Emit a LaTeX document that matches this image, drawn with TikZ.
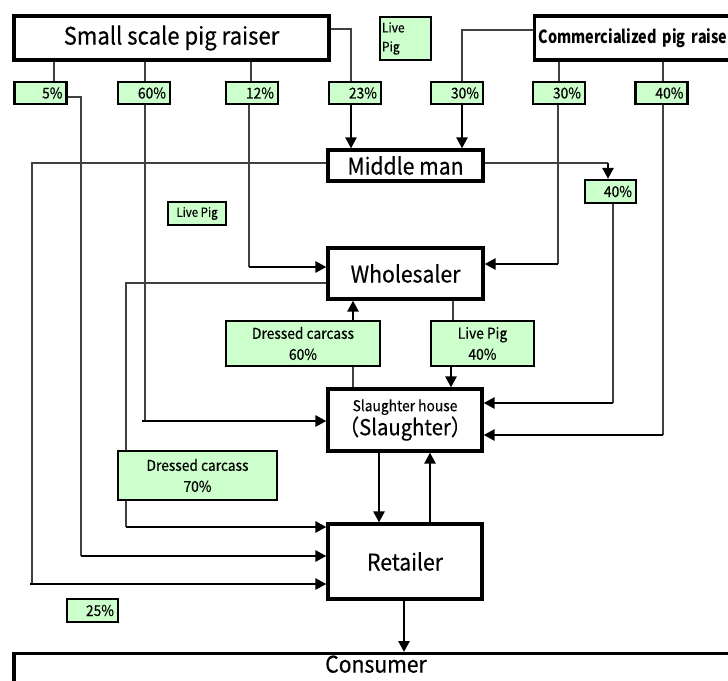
\documentclass[tikz,border=0pt]{standalone}
\usepackage{fontspec}
\setmainfont{Noto Sans CJK JP}[FakeStretch=0.92, FakeBold=0.4]
\newfontfamily\narrowfont{Noto Sans CJK JP}[FakeStretch=0.8]
\usetikzlibrary{arrows.meta}
\definecolor{boxgreen}{HTML}{CCFFCC}
\definecolor{wiregray}{HTML}{404040}
\newcommand{\fsz}[2]{\fontsize{#1}{#2}\selectfont}
\pgfdeclarelayer{paper}
\pgfdeclarelayer{wires}
\pgfsetlayers{paper,wires,main}

\begin{document}
\begin{tikzpicture}[x=1pt,y=-1pt,
  stage/.style={draw, line width=3.2pt, fill=white, inner sep=0pt, font=\fsz{23}{26}},
  tag/.style={draw, line width=2.2pt, fill=boxgreen, inner sep=0pt, align=center, font=\fsz{15}{21}},
  pct/.style={draw, line width=2.2pt, fill=boxgreen, inner xsep=4pt, inner ysep=0pt,
    text width=44pt, align=right, minimum height=22pt, font=\fsz{15}{18}},
  wire/.style={draw=wiregray, line width=1.3pt},
  flow/.style={draw=black, line width=2.6pt, -{Triangle[length=11pt,width=11pt]}},
]
\useasboundingbox (0,0) rectangle (728,680);
\clip (0,0) rectangle (728,680);
\begin{pgfonlayer}{paper}
\fill[white] (0,0) rectangle (728,680);
\end{pgfonlayer}

% producers
\node[stage, minimum width=315pt, minimum height=44pt, font=\fsz{24}{28}] (small) at (171.5,38) {Small scale pig raiser};
\node[stage, minimum width=212pt, minimum height=44pt, text width=240pt, align=left,
  inner xsep=4pt, anchor=west, font=\narrowfont\bfseries\fsz{18}{22}] (comm) at (533,38) {Commercialized pig raiser};
\node[tag, minimum width=51pt, minimum height=43pt, text width=47pt, align=left,
  font=\fsz{13}{19}] (lptop) at (405.5,38.5) {Live\\Pig};

% shares of each producer
\node[pct] (p5)   at (40.5,93) {5\%};
\node[pct] (p60)  at (144,93)  {60\%};
\node[pct] (p12)  at (252,93)  {12\%};
\node[pct] (p23)  at (355,93)  {23\%};
\node[pct] (p30a) at (457,93)  {30\%};
\node[pct] (p30b) at (559,93)  {30\%};
\node[pct] (p40a) at (661.5,93) {40\%};

% traders and processors
\node[stage, minimum width=155pt, minimum height=31pt] (middle) at (405.5,165.5) {Middle man};
\node[pct, text width=43pt, minimum height=23pt] (p40b) at (610.5,191.5) {40\%};
\node[tag, minimum width=58pt, minimum height=23pt, font=\fsz{12.5}{14}] (lpmid) at (197,213.5) {Live Pig};
\node[stage, minimum width=155pt, minimum height=51pt] (wholesaler) at (405.5,273.5) {Wholesaler};
\node[tag, minimum width=154pt, minimum height=45pt] (dc60) at (303,343.5) {Dressed carcass\\60\%};
\node[tag, minimum width=103pt, minimum height=45pt] (lp40) at (482.5,343.5) {Live Pig\\40\%};
\node[stage, minimum width=154pt, minimum height=62pt, align=center] (slaughter) at (405,420)
  {{\fsz{15}{20}Slaughter house}\\[-2pt]{\fsz{22}{24}（Slaughter）}};
\node[tag, minimum width=159pt, minimum height=49pt] (dc70) at (197.5,475.5) {Dressed carcass\\70\%};
\node[stage, minimum width=154pt, minimum height=75pt] (retailer) at (405,561.5) {Retailer};
\node[pct, text width=43pt, minimum height=23pt] (p25) at (92.5,610.5) {25\%};
\node[stage, minimum width=724pt, anchor=north, inner ysep=2pt, text height=17pt, text depth=40pt]
  (consumer) at (376,652) {Consumer};

\begin{pgfonlayer}{wires}
% producers to their shares
\draw[wire] (54,0 |- small.south) -- (54,0 |- p5.north);
\draw[wire] (145,0 |- small.south) -- (145,0 |- p60.north);
\draw[wire] (251,0 |- small.south) -- (251,0 |- p12.north);
\draw[wire] (small.east |- 0,29) -| (351,0 |- p23.north);
\draw[flow] (351,0 |- p23.south) -- (351,0 |- middle.north);
\draw[wire] (comm.west |- 0,30) -| (462,0 |- p30a.north);
\draw[flow] (462,0 |- p30a.south) -- (462,0 |- middle.north);
\draw[wire] (559,0 |- comm.south) -- (559,0 |- p30b.north);
\draw[wire] (663,0 |- comm.south) -- (663,0 |- p40a.north);

% 5% straight to the retailer
\coordinate (k5) at (81,556);
\draw[wire] (p5.east |- 0,97) -| (k5);
\draw[flow] (k5) -- (retailer.west |- k5);

% 60% to the slaughter house
\coordinate (k60) at (145,421);
\coordinate (k60s) at (142,421);
\draw[wire] (p60.south -| k60) -- (k60);
\draw[flow] (k60s) -- (slaughter.west |- k60s);

% 12% to the wholesaler
\coordinate (k12) at (249,267);
\draw[wire] (p12.south -| k12) -- (k12);
\draw[flow] (k12) -- (wholesaler.west |- k12);

% middle man to the retailer
\coordinate (km1) at (32,163);
\coordinate (km2) at (32,584);
\coordinate (km3) at (30,584);
\draw[wire] (middle.west |- km1) -- (km1) -- (km2);
\draw[flow] (km3) -- (retailer.west |- km3);

% middle man to the slaughter house (40%)
\coordinate (km4) at (608,163);
\draw[wire] (middle.east |- km4) -- (km4);
\draw[flow] (km4) -- (p40b.north -| km4);
\coordinate (k40b) at (613,403);
\draw[wire] (p40b.south -| k40b) -- (k40b);
\draw[flow] (k40b) -- (slaughter.east |- k40b);

% commercial raiser to wholesaler and slaughter house
\coordinate (k30) at (558,264);
\draw[wire] (p30b.south -| k30) -- (k30);
\draw[flow] (k30) -- (wholesaler.east |- k30);
\coordinate (k40a) at (663,435);
\draw[wire] (p40a.south -| k40a) -- (k40a);
\draw[flow] (k40a) -- (slaughter.east |- k40a);

% wholesaler to retailer, dressed carcass
\coordinate (kw1) at (126,283);
\coordinate (kw2) at (126,527);
\draw[wire] (wholesaler.west |- kw1) -- (kw1) -- (kw2);
\draw[flow] (kw2) -- (retailer.west |- kw2);

% wholesaler and slaughter house
\draw[wire] (slaughter.north -| 353,0) -- (dc60.south -| 353,0);
\draw[flow] (dc60.north -| 353,0) -- (wholesaler.south -| 353,0);
\draw[wire] (wholesaler.south -| 453,0) -- (lp40.north -| 453,0);
\draw[flow] (lp40.south -| 451,0) -- (slaughter.north -| 451,0);

% slaughter house, retailer, consumer
\draw[flow] (slaughter.south -| 379,0) -- (retailer.north -| 379,0);
\draw[flow] (retailer.north -| 430,0) -- (slaughter.south -| 430,0);
\draw[flow] (retailer.south -| 404,0) -- (consumer.north -| 404,0);
\end{pgfonlayer}
\end{tikzpicture}
\end{document}
